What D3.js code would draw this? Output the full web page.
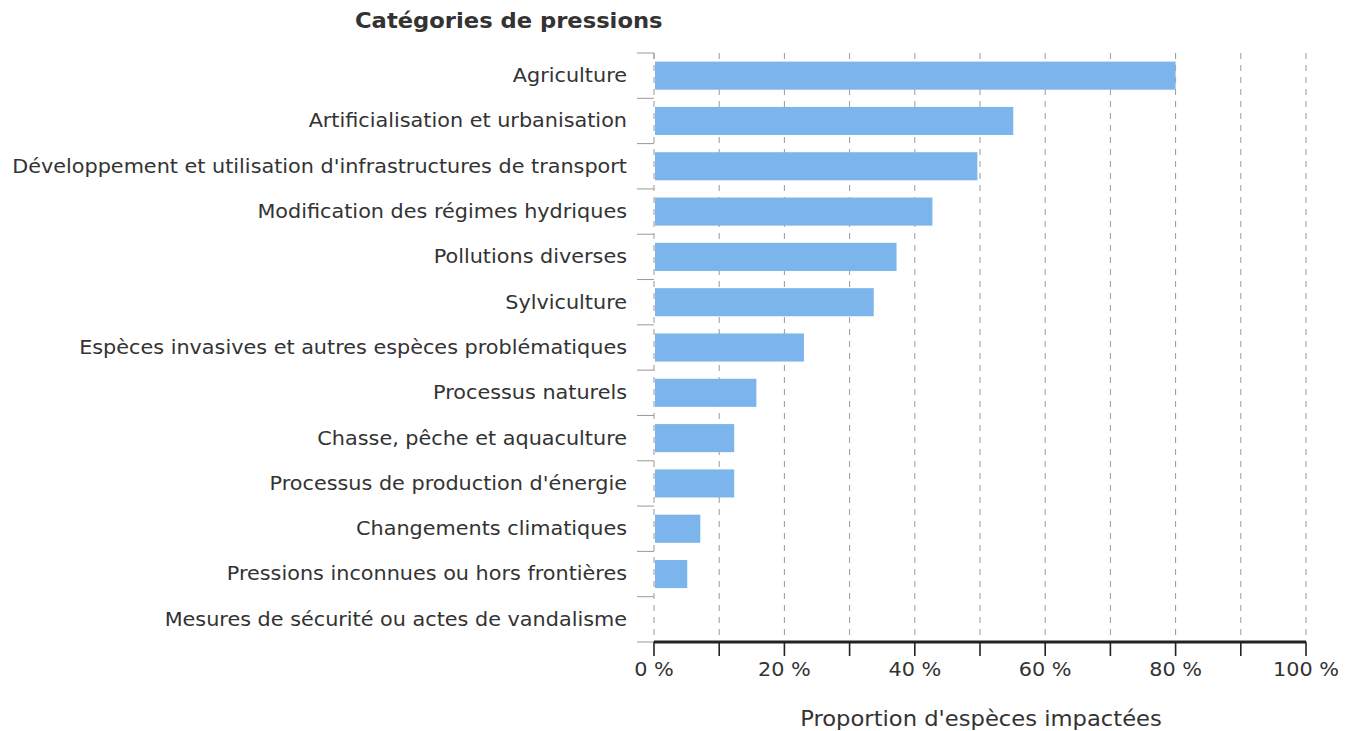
<!DOCTYPE html>
<html><head><meta charset="utf-8">
<script src="https://cdn.jsdelivr.net/npm/d3@7/dist/d3.min.js"></script>
<style>body{margin:0;background:#fff;} text{font-family:"DejaVu Sans",sans-serif;}</style>
</head><body>
<svg id="c" width="1353" height="731"></svg>
<script>
const categories = ["Agriculture","Artificialisation et urbanisation","Développement et utilisation d'infrastructures de transport","Modification des régimes hydriques","Pollutions diverses","Sylviculture","Espèces invasives et autres espèces problématiques","Processus naturels","Chasse, pêche et aquaculture","Processus de production d'énergie","Changements climatiques","Pressions inconnues ou hors frontières","Mesures de sécurité ou actes de vandalisme"];
const values = [80, 55.1, 49.6, 42.7, 37.2, 33.7, 23, 15.7, 12.3, 12.3, 7.1, 5.1, 0];
const xTicks = [0,10,20,30,40,50,60,70,80,90,100];
const xLabels = [0,20,40,60,80,100];

const SX = 1.105;
const svg = d3.select("#c");
const mL = 654, mR = 1306, mT = 53, mB = 642;
const x = d3.scaleLinear().domain([0,100]).range([mL,mR]);
const y = d3.scaleBand().domain(categories).range([mT,mB]).paddingInner(0.38).paddingOuter(0.19);
const step = (mB-mT)/categories.length;

// grid
svg.append("g").selectAll("line").data(xTicks).join("line")
  .attr("x1",d=>x(d)).attr("x2",d=>x(d)).attr("y1",mT).attr("y2",mB)
  .attr("stroke","#999").attr("stroke-width",1).attr("stroke-dasharray","6,6");

// y boundary ticks
const bounds = d3.range(categories.length+1).map(i=>mT+i*step);
svg.append("g").selectAll("line").data(bounds).join("line")
  .attr("x1",mL-17).attr("x2",mL).attr("y1",d=>d).attr("y2",d=>d)
  .attr("stroke","#999").attr("stroke-width",1);
svg.append("line").attr("x1",mL).attr("x2",mL).attr("y1",mT).attr("y2",mT+6).attr("stroke","#999");

// bars
svg.append("g").selectAll("rect").data(categories).join("rect")
  .attr("x",x(0)+1).attr("y",d=>y(d)).attr("height",y.bandwidth())
  .attr("width",(d,i)=>Math.max(0,x(values[i])-x(0)-1))
  .attr("fill","#7cb5ec");

// y labels
svg.append("g").selectAll("text").data(categories).join("text")
  .attr("transform",d=>`translate(${mL-27},${y(d)+y.bandwidth()/2}) scale(${SX},1)`)
  .attr("dy","0.34em")
  .attr("text-anchor","end").attr("font-size",18.8).attr("fill","#333").text(d=>d);

// x axis
svg.append("line").attr("x1",mL).attr("x2",mR).attr("y1",mB).attr("y2",mB)
  .attr("stroke","#222").attr("stroke-width",3);
svg.append("g").selectAll("line").data(xTicks).join("line")
  .attr("x1",d=>x(d)).attr("x2",d=>x(d)).attr("y1",mB).attr("y2",mB+14)
  .attr("stroke","#222").attr("stroke-width",1.6);
svg.append("g").selectAll("text").data(xLabels).join("text")
  .attr("transform",d=>`translate(${x(d)},676) scale(${SX},1)`).attr("text-anchor","middle")
  .attr("font-size",18.8).attr("fill","#333").text(d=>d+" %");

svg.append("text").attr("transform",`translate(981,726) scale(${SX},1)`).attr("text-anchor","middle")
  .attr("font-size",20.5).attr("fill","#333").text("Proportion d'espèces impactées");
svg.append("text").attr("transform",`translate(355,28) scale(${SX},1)`).attr("font-size",20.5).attr("font-weight","bold")
  .attr("fill","#333").text("Catégories de pressions");
</script>
</body></html>
